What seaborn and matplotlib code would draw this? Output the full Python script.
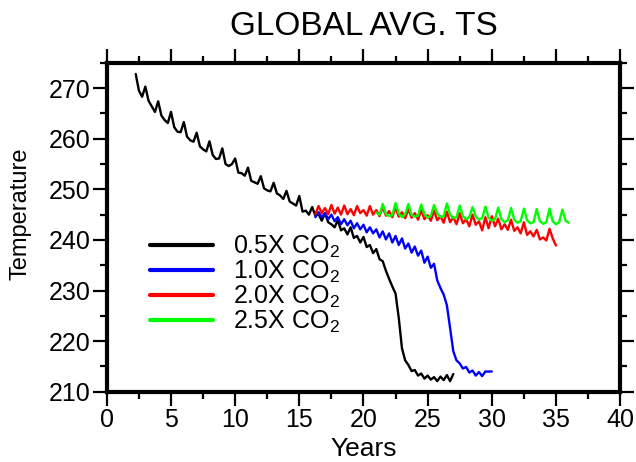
import numpy as np
import pandas as pd
import seaborn as sns
import matplotlib
matplotlib.use("Agg")
from matplotlib import pyplot as plt
from matplotlib.ticker import MultipleLocator

sns.set_theme(style="ticks")
plt.rcParams['font.family'] = ['Liberation Sans', 'DejaVu Sans']
plt.rcParams['mathtext.default'] = 'regular'
plt.rcParams['text.color'] = 'black'
plt.rcParams['axes.labelcolor'] = 'black'

# quarter-year samples, values
yrs_05 = np.arange(2.25, 27.01, 0.25)
ts_05 = [272.8, 269.5, 268.3,
         270.3, 267.5, 266.4, 265.3, 267.4, 264.6, 263.7, 263.1,
         265.3, 262.3, 261.4, 261.3, 263.3, 260.4, 259.7, 259.4,
         261.2, 258.5, 257.9, 257.5, 259.5, 256.8, 256.0, 256.1,
         258.1, 255.0, 254.6, 255.0, 256.1, 253.3, 253.2, 252.7,
         254.3, 251.7, 251.4, 251.1, 252.6, 250.2, 249.8, 249.6,
         251.3, 249.2, 248.8, 248.1, 249.7, 247.6, 247.2, 246.8,
         248.7, 245.6, 245.8, 245.0, 246.5, 244.8, 245.1, 243.8,
         245.3, 243.5, 243.1, 242.5, 243.9, 241.9, 242.3, 241.1,
         242.5, 240.4, 240.8, 239.5, 240.6, 238.6, 239.0, 237.4,
         238.2, 236.2, 235.8, 233.9, 232.3, 230.8, 229.4, 224.6,
         218.6, 216.2, 215.3, 214.1, 214.3, 213.2, 213.6, 212.6,
         213.2, 212.4, 212.9, 212.1, 213.0, 212.3, 213.3, 212.1,
         213.5]

yrs_10 = np.arange(16.25, 30.01, 0.25)
ts_10 = [244.5, 245.5, 244.5, 245.3, 244.1, 245.0, 243.7, 244.5,
         243.1, 244.1, 242.9, 243.8, 242.3, 243.3, 242.1, 243.0,
         241.5, 242.5, 241.3, 242.1, 240.5, 241.7, 240.1, 241.3,
         239.5, 240.8, 239.0, 240.3, 238.3, 239.3, 237.5, 238.7,
         236.9, 237.9, 235.5, 236.7, 234.5, 235.3, 232.0, 230.5,
         229.2, 227.1, 222.6, 218.0, 216.2, 215.6, 214.6, 214.9,
         213.8, 214.2, 213.2, 213.9, 213.1, 214.0, 214.0, 214.0]

yrs_20 = np.arange(16.25, 35.01, 0.25)
ts_20 = [245.1, 246.7, 245.3, 246.3, 245.1, 246.9, 245.2, 246.4,
         245.0, 246.8, 245.1, 246.1, 244.9, 246.7, 245.3, 245.9,
         244.8, 246.7, 245.0, 245.9, 244.7, 246.5, 244.8, 245.7,
         244.5, 246.4, 244.6, 245.5, 244.3, 246.1, 244.4, 245.3,
         244.0, 245.9, 244.1, 244.9, 243.8, 245.8, 243.9, 244.7,
         243.4, 245.6, 243.5, 244.5, 243.1, 245.3, 243.3, 244.1,
         242.7, 245.0, 243.0, 243.7, 241.9, 244.5, 242.3, 244.7,
         242.7, 244.2, 242.1, 243.1, 242.0, 244.0, 241.8, 242.5,
         241.3, 243.5, 241.0, 241.7, 240.7, 242.0, 240.1, 240.5,
         239.9, 242.2, 240.3, 238.9]

yrs_25 = np.arange(21.0, 36.01, 0.25)
ts_25 = [245.4, 245.0, 247.1, 245.1, 244.7, 244.9, 247.3, 245.2,
         244.5, 245.1, 247.1, 244.9, 244.6, 244.8, 247.0, 245.1,
         244.4, 244.8, 246.9, 245.3, 244.5, 244.7, 247.2, 245.0,
         244.3, 244.5, 246.8, 244.7, 244.1, 244.5, 246.5, 244.7,
         244.0, 244.3, 246.6, 244.4, 243.8, 244.1, 246.4, 244.1,
         243.5, 243.9, 246.3, 244.0, 243.4, 243.7, 246.2, 243.9,
         243.3, 243.5, 246.1, 243.7, 243.2, 243.5, 246.2, 243.7,
         243.1, 243.5, 246.0, 243.8, 243.4]

labels = ['0.5X CO$_2$', '1.0X CO$_2$', '2.0X CO$_2$', '2.5X CO$_2$']
colors = ['#000000', '#0000ff', '#ff0000', '#00ff00']

frames = []
for lab, x, y in zip(labels, [yrs_05, yrs_10, yrs_20, yrs_25], [ts_05, ts_10, ts_20, ts_25]):
    frames.append(pd.DataFrame({'Years': x, 'Temperature': y, 'run': lab}))
df = pd.concat(frames, ignore_index=True)

fig = plt.figure(figsize=(6.36, 4.62), dpi=100)
ax = fig.add_axes([0.168, 0.152, 0.807, 0.712])
sns.lineplot(data=df, x='Years', y='Temperature', hue='run', palette=colors,
             estimator=None, sort=False, linewidth=1.7, ax=ax)

ax.set_xlim(0, 40)
ax.set_ylim(210, 275)
ax.xaxis.set_major_locator(MultipleLocator(5))
ax.xaxis.set_minor_locator(MultipleLocator(2.5))
ax.yaxis.set_major_locator(MultipleLocator(10))
ax.yaxis.set_minor_locator(MultipleLocator(5))
ax.tick_params(which='both', direction='out', top=True, right=True, width=1.6,
               colors='black', labelsize=18, pad=2)
ax.tick_params(which='major', length=10)
ax.tick_params(which='minor', length=5)
for s in ax.spines.values():
    s.set_linewidth(3)
    s.set_color('black')

ax.set_xlabel('Years', fontsize=19, labelpad=3)
ax.set_ylabel('Temperature', fontsize=17)
ax.yaxis.set_label_coords(-0.146, 0.54)
ax.set_title('GLOBAL AVG. TS', fontsize=24, pad=20, color='black')

leg = ax.legend(loc='upper left', bbox_to_anchor=(0.065, 0.51), frameon=False,
                fontsize=18, handlelength=2.5, handletextpad=0.8,
                labelspacing=-0.05, borderaxespad=0)
for h in leg.get_lines():
    h.set_linewidth(3)

fig.savefig('out.png', dpi=100)
